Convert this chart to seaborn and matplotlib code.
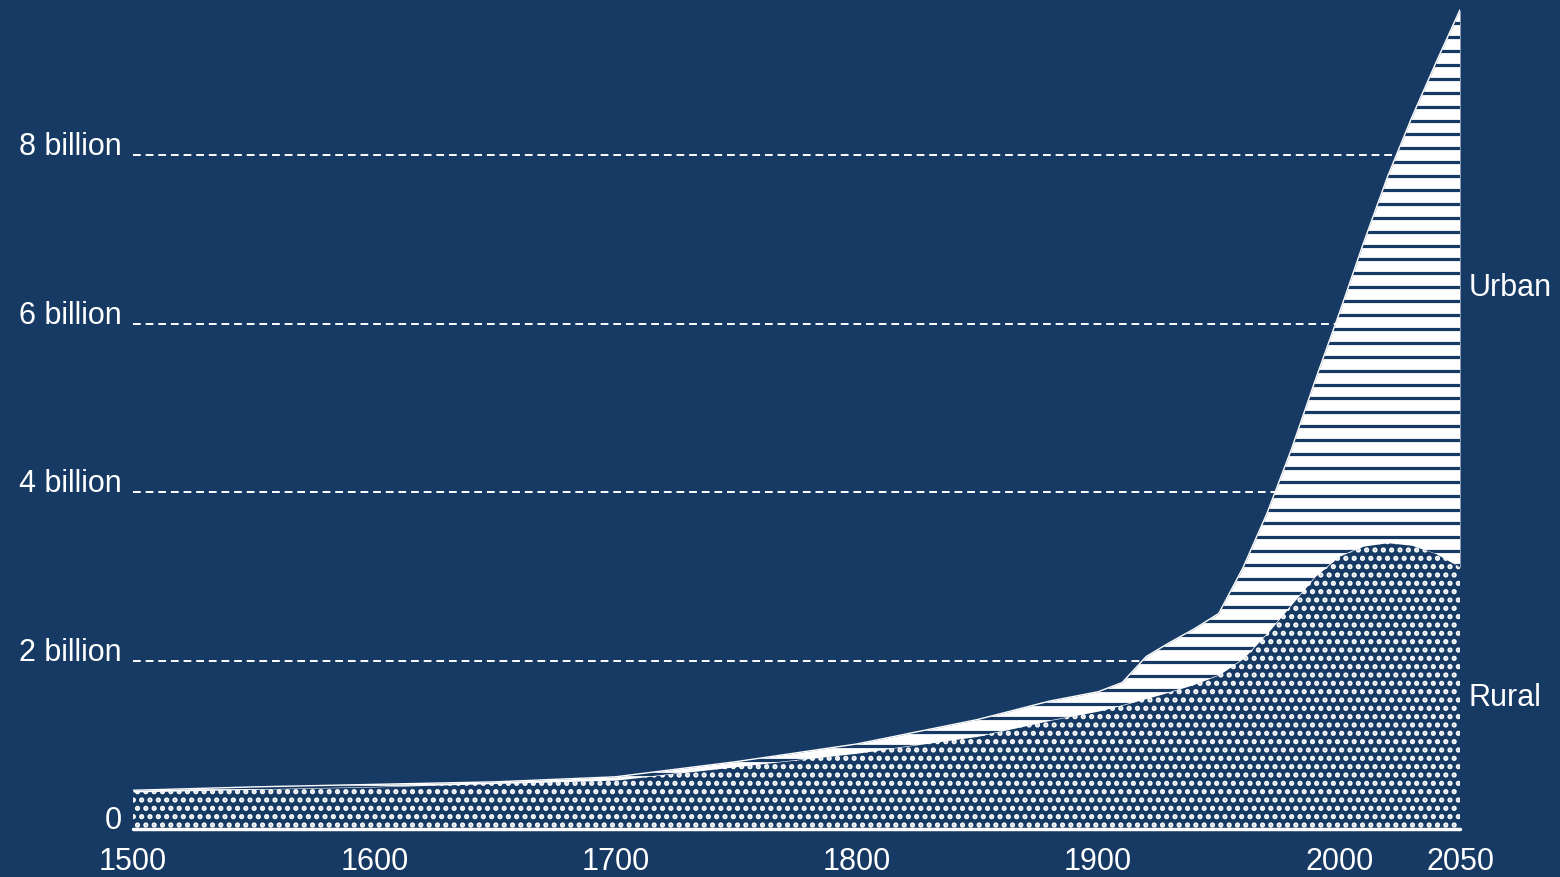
import matplotlib.pyplot as plt
import seaborn as sns
import pandas as pd
import numpy as np

BG = "#163a64"

# world population, billions
years = [1500, 1550, 1600, 1650, 1700, 1750, 1800, 1850, 1880, 1900, 1910, 1920, 1930,
         1940, 1950, 1960, 1970, 1980, 1990, 2000, 2010, 2020, 2030, 2040, 2050]
total_pop = [0.46, 0.50, 0.53, 0.56, 0.62, 0.80, 1.01, 1.30, 1.52, 1.63, 1.74, 2.05, 2.22,
             2.38, 2.56, 3.10, 3.75, 4.50, 5.33, 6.13, 6.96, 7.75, 8.45, 9.10, 9.73]
rural_pop = [0.44, 0.47, 0.50, 0.54, 0.58, 0.74, 0.90, 1.10, 1.29, 1.40, 1.47, 1.55, 1.63,
             1.72, 1.83, 2.02, 2.32, 2.66, 3.00, 3.24, 3.36, 3.40, 3.37, 3.27, 3.11]

y_ticks = [0, 2, 4, 6, 8]
y_tick_labels = ["0", "2 billion", "4 billion", "6 billion", "8 billion"]
x_ticks = [1500, 1600, 1700, 1800, 1900, 2000, 2050]

df = pd.DataFrame({"year": years, "total": total_pop, "rural": rural_pop})

sns.set_theme(style="dark", rc={"axes.facecolor": BG, "figure.facecolor": BG,
                                "hatch.linewidth": 2.5})
plt.rcParams["font.family"] = ["Liberation Sans", "DejaVu Sans"]

fig = plt.figure(figsize=(15.6, 8.77), dpi=100)
ax = fig.add_axes([133 / 1560, 48 / 877, (1460 - 133) / 1560, 829 / 877])

# dashed grid behind the areas
for yv in y_ticks[1:]:
    ax.axhline(yv, color="white", lw=1.4, ls=(0, (4, 2.5)), zorder=1)

# rural: dotted texture
ax.fill_between(df["year"], 0, df["rural"], facecolor=BG, edgecolor="white",
                hatch="..", lw=0, zorder=2)

# urban: white with dark horizontal stripes
urban = ax.fill_between(df["year"], df["rural"], df["total"], color="white", lw=0, zorder=2)
step = 0.165
levels = np.arange(8.084 % step, 10, step)
stripes = ax.hlines(levels, years[0], years[-1], color=BG, lw=2.3, zorder=3)
stripes.set_clip_path(urban.get_paths()[0], ax.transData)

sns.lineplot(data=df, x="year", y="total", color="white", lw=1, ax=ax, zorder=4)
ax.axhline(0, xmin=0, xmax=1, color="white", lw=2.5, zorder=5, clip_on=False)

ax.set_xlim(1500, 2050)
ax.set_ylim(0, 829 / 84.2)
ax.set_xticks(x_ticks)
ax.set_yticks(y_ticks)
ax.set_yticklabels(y_tick_labels)
ax.set_xlabel("")
ax.set_ylabel("")
ax.tick_params(axis="both", length=0, labelsize=22, colors="white")
ax.tick_params(axis="x", pad=13)
ax.tick_params(axis="y", pad=8)
for lbl in ax.get_yticklabels():
    lbl.set_va("baseline")
ax.grid(False)
for s in ax.spines.values():
    s.set_visible(False)

# end labels at the middle of each band
ax.annotate("Urban", xy=(years[-1], (rural_pop[-1] + total_pop[-1]) / 2), xytext=(6, 0),
            textcoords="offset points", va="center", ha="left", color="white", fontsize=22)
ax.annotate("Rural", xy=(years[-1], rural_pop[-1] / 2), xytext=(6, 0),
            textcoords="offset points", va="center", ha="left", color="white", fontsize=22)

fig.savefig("out.png", dpi=100, facecolor=BG)
